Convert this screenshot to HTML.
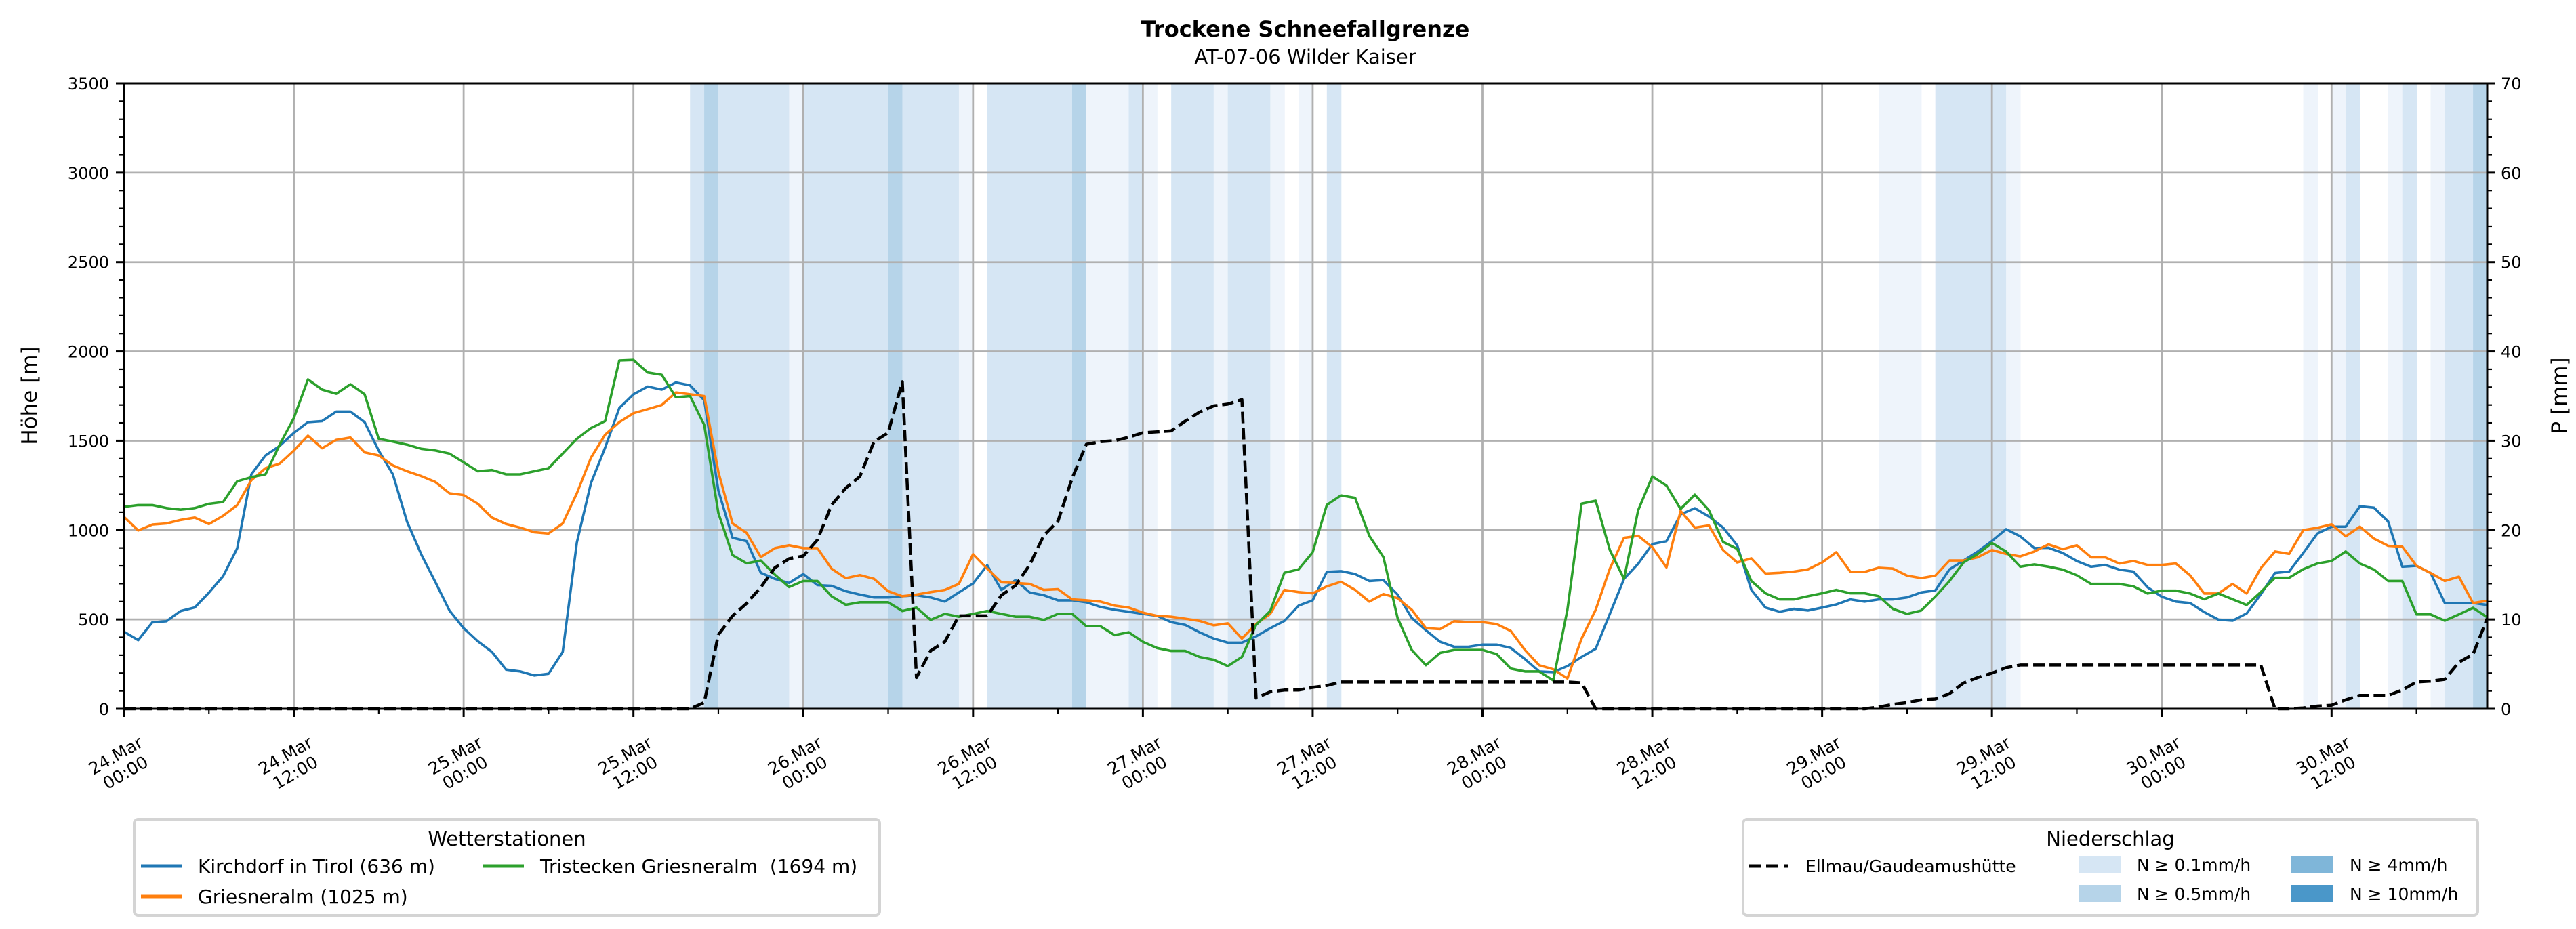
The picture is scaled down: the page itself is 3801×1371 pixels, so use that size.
<!DOCTYPE html>
<html><head><meta charset="utf-8"><style>
html,body{margin:0;padding:0;background:#fff}
svg{display:block;font-family:"DejaVu Sans","Liberation Sans",sans-serif}
</style></head><body>
<svg id="chart" xmlns="http://www.w3.org/2000/svg" width="3801" height="1371" viewBox="0 0 3801 1371">
<rect width="3801" height="1371" fill="#fff"/>
<text x="1926" y="54" text-anchor="middle" font-size="32" font-weight="bold">Trockene Schneefallgrenze</text>
<text x="1926" y="94" text-anchor="middle" font-size="29">AT-07-06 Wilder Kaiser</text>
<g id="bands"></g>
<g id="grid"></g>
<g id="series"></g>
<g id="axes"></g>
<text transform="translate(54,584) rotate(-90)" text-anchor="middle" font-size="31">Höhe [m]</text>
<text transform="translate(3787,584) rotate(-90)" text-anchor="middle" font-size="31">P [mm]</text>
<g>
<rect x="198" y="1209" width="1100" height="142" rx="6" fill="#fff" stroke="#d4d4d4" stroke-width="4"/>
<text x="748" y="1248" text-anchor="middle" font-size="29">Wetterstationen</text>
<line x1="208" y1="1278" x2="268" y2="1278" stroke="#1f77b4" stroke-width="5"/>
<text x="292" y="1288" font-size="28">Kirchdorf in Tirol (636 m)</text>
<line x1="208" y1="1323" x2="268" y2="1323" stroke="#ff7f0e" stroke-width="5"/>
<text x="292" y="1333" font-size="28">Griesneralm (1025 m)</text>
<line x1="713" y1="1278" x2="773" y2="1278" stroke="#2ca02c" stroke-width="5"/>
<text x="797" y="1288" font-size="28" xml:space="preserve">Tristecken Griesneralm  (1694 m)</text>
</g>
<g>
<rect x="2572" y="1209" width="1084" height="142" rx="6" fill="#fff" stroke="#d4d4d4" stroke-width="4"/>
<text x="3114" y="1248" text-anchor="middle" font-size="29">Niederschlag</text>
<line x1="2580" y1="1278" x2="2638" y2="1278" stroke="#000" stroke-width="5" stroke-dasharray="18,8"/>
<text x="2664" y="1287" font-size="25">Ellmau/Gaudeamushütte</text>
<rect x="3067" y="1263" width="62" height="25" fill="#d6e6f4"/>
<text x="3153" y="1285" font-size="25">N ≥ 0.1mm/h</text>
<rect x="3067" y="1306" width="62" height="25" fill="#b6d4e9"/>
<text x="3153" y="1328" font-size="25">N ≥ 0.5mm/h</text>
<rect x="3381" y="1263" width="62" height="25" fill="#7fb6d9"/>
<text x="3467" y="1285" font-size="25">N ≥ 4mm/h</text>
<rect x="3381" y="1306" width="62" height="25" fill="#4a97c9"/>
<text x="3467" y="1328" font-size="25">N ≥ 10mm/h</text>
</g>
</svg>
<script>
const kirchdorf=[431,384,484,490,547,567,650,742,898,1312,1418,1471,1544,1604,1610,1663,1663,1604,1445,1312,1047,865,709,550,451,378,318,219,209,186,196,318,931,1263,1461,1683,1760,1803,1786,1826,1810,
1727,1221,957,938,761,727,704,754,692,688,658,639,623,
623,630,635,623,600,651,701,803,665,720,651,635,607,607,596,570,554,543,531,520,485,469,428,393,370,370,405,451,492,577,607,766,770,
754,715,720,639,508,439,375,347,347,359,359,340,278,209,205,239,290,336,531,727,812,922,938,1088,1122,1076,1014,915,665,566,543,559,550,566,584,612,600,612,612,623,651,662,780,830,
880,939,1005,965,899,901,872,827,795,805,779,768,680,627,600,592,541,499,493,533,640,760,768,872,981,1019,1019,1133,1125,1048,795,800,760,592,592,592,581];
const griesneralm=[1074,998,1031,1037,1057,1070,1034,1080,1140,1279,1346,1372,1445,1528,1458,1505,1518,1435,1418,1362,1329,1302,1269,1206,1196,1147,1070,1034,1014,988,981,1037,1206,1405,1534,1604,1654,1677,1700,1770,1760,
1750,1325,1037,984,849,899,915,899,899,784,731,748,727,
658,630,639,653,665,699,865,784,708,704,699,665,669,612,607,600,577,566,538,520,515,504,492,467,478,393,474,531,665,653,646,685,711,
665,600,642,619,554,451,446,490,485,485,474,435,329,244,221,170,393,554,784,957,968,904,791,1107,1014,1026,888,819,842,757,761,768,780,819,876,766,766,789,784,745,731,745,830,830,
848,888,867,853,880,920,893,915,848,848,813,827,805,805,813,747,645,645,699,645,787,880,867,1000,1013,1032,965,1019,952,912,907,800,760,715,739,592,605];
const tristecken=[1130,1140,1140,1123,1114,1123,1147,1157,1273,1296,1312,1478,1627,1843,1786,1763,1816,1760,1511,1495,1478,1455,1445,1428,1379,1329,1336,1312,1312,1329,1346,1428,1511,1571,1610,1949,1952,1882,1869,1743,1750,
1589,1095,860,814,830,750,681,715,715,630,582,596,596,
596,547,566,497,531,515,531,547,531,515,515,497,531,531,462,462,412,428,375,340,324,324,290,274,239,290,469,547,761,780,876,1141,1194,
1180,968,849,508,329,244,313,329,329,329,306,225,209,209,159,554,1148,1164,888,727,1111,1300,1249,1118,1198,1111,934,895,715,646,612,612,630,646,665,646,646,630,559,531,550,628,715,819,
867,928,880,795,808,795,779,747,699,699,699,685,645,661,661,645,613,645,613,581,653,733,733,781,813,827,880,813,779,715,715,528,528,493,528,565,512];
const ellmauP=[0,0,0,0,0,0,0,0,0,0,0,0,0,0,0,0,0,0,0,0,0,0,0,0,0,0,0,0,0,0,0,0,0,0,0,0,0,0,0,0,0,
0.7,8.3,10.4,11.8,13.6,15.8,16.8,17.1,18.9,22.8,24.7,26.0,29.9,30.9,36.6,3.5,6.5,7.5,10.4,10.4,10.4,12.7,13.8,16.1,19.4,21.0,25.8,29.6,29.9,30.0,30.4,30.9,31.0,31.1,32.2,33.2,33.9,34.1,34.6,1.2,1.9,2.1,2.1,2.4,2.6,3.0,
3.0,3.0,3.0,3.0,3.0,3.0,3.0,3.0,3.0,3.0,3.0,3.0,3.0,3.0,3.0,3.0,2.9,
0,0,0,0,0,0,0,0,0,0,0,0,0,0,0,0,0,0,0,0,
0.2,0.5,0.7,1.0,1.1,1.7,2.9,3.5,4.0,4.6,
4.9,4.9,4.9,4.9,4.9,4.9,4.9,4.9,4.9,4.9,4.9,4.9,4.9,4.9,4.9,4.9,4.9,4.9,
0,0,0.1,0.3,0.4,1.0,1.5,1.5,1.5,2.1,3.0,3.1,3.3,5.2,6.1,10.1];
const precipLevel=[0,0,0,0,0,0,0,0,0,0,0,0,0,0,0,0,0,0,0,0,0,0,0,0,0,0,0,0,0,0,0,0,0,0,0,0,0,0,0,0,
2,3,2,2,2,2,2,1,2,2,2,2,2,2,3,2,2,2,2,1,0,2,2,2,2,2,2,3,1,1,1,2,1,0,2,2,2,1,2,2,2,1,0,1,0,2,
0,0,0,0,0,0,0,0,0,0,0,0,0,0,0,0,0,0,0,0,0,0,0,0,0,0,0,0,0,0,0,0,0,0,0,0,0,0,
1,1,1,0,2,2,2,2,2,1,
0,0,0,0,0,0,0,0,0,0,0,0,0,0,0,0,0,0,0,0,
1,0,1,2,0,0,1,2,0,1,2,2,3];
const xTickDays=["24.Mar","24.Mar","25.Mar","25.Mar","26.Mar","26.Mar","27.Mar","27.Mar","28.Mar","28.Mar","29.Mar","29.Mar","30.Mar","30.Mar"];
const xTickTimes=["00:00","12:00","00:00","12:00","00:00","12:00","00:00","12:00","00:00","12:00","00:00","12:00","00:00","12:00"];
const yTicks=[0,500,1000,1500,2000,2500,3000,3500];
const y2Ticks=[0,10,20,30,40,50,60,70];
const levelColors=["none","#eef4fb","#d6e6f4","#b6d4e9","#4a97c9"];

const NS="http://www.w3.org/2000/svg";
const L=183,R=3670,T=123,B=1046,HMAX=167,YMAX=3500,PMAX=70;
const xS=h=>L+h*(R-L)/HMAX;
const yS=v=>B-v/YMAX*(B-T);
const pS=v=>B-v/PMAX*(B-T);
function mk(tag,attrs,parent){const e=document.createElementNS(NS,tag);for(const k in attrs)e.setAttribute(k,attrs[k]);parent.appendChild(e);return e;}

const bands=document.getElementById('bands');
precipLevel.forEach((lv,h)=>{
  if(!lv)return;
  const r=mk('rect',{x:xS(h),y:T,width:xS(h+1)-xS(h)+0.6,height:B-T,fill:levelColors[lv]},bands);
  
  
});

const grid=document.getElementById('grid');
yTicks.forEach(v=>{
  const g=mk('line',{x1:L,x2:R,y1:yS(v),y2:yS(v),stroke:'#b0b0b0','stroke-width':2.8},grid);
  
  
});
xTickDays.forEach((d,i)=>{
  const x=xS(i*12);
  const g=mk('line',{x1:x,x2:x,y1:T,y2:B,stroke:'#b0b0b0','stroke-width':2.8},grid);
  
  
});

const series=document.getElementById('series');
function line(arr,scale,color,name,dash){
  const pts=arr.map((v,h)=>xS(h).toFixed(1)+','+scale(v).toFixed(1)).join(' ');
  const p=mk('polyline',{points:pts,fill:'none',stroke:color,'stroke-width':dash?4.5:3.6,'stroke-linejoin':'round'},series);
  if(dash)p.setAttribute('stroke-dasharray','17,7');
  
  
}
line(kirchdorf,yS,'#1f77b4','kirchdorf-line');
line(griesneralm,yS,'#ff7f0e','griesneralm-line');
line(tristecken,yS,'#2ca02c','tristecken-line');
line(ellmauP,pS,'#000','ellmau-precip-line',true);

const axes=document.getElementById('axes');
const frame=mk('rect',{x:L,y:T,width:R-L,height:B-T,fill:'none',stroke:'#000','stroke-width':3},axes);


yTicks.forEach(v=>{
  const y=yS(v);
  mk('line',{x1:L-12,x2:L,y1:y,y2:y,stroke:'#000','stroke-width':3},axes);
  const t=mk('text',{x:L-22,y:y+9,'text-anchor':'end','font-size':24},axes);
  t.textContent=v;
  
  
});
for(let v=0;v<=YMAX;v+=100){if(v%500)mk('line',{x1:L-7,x2:L,y1:yS(v),y2:yS(v),stroke:'#000','stroke-width':2.2},axes);}
y2Ticks.forEach(v=>{
  const y=pS(v);
  mk('line',{x1:R,x2:R+12,y1:y,y2:y,stroke:'#000','stroke-width':3},axes);
  const t=mk('text',{x:R+20,y:y+9,'font-size':24},axes);
  t.textContent=v;
  
  
});
for(let v=0;v<=PMAX;v+=2){if(v%10)mk('line',{x1:R,x2:R+7,y1:pS(v),y2:pS(v),stroke:'#000','stroke-width':2.2},axes);}
xTickDays.forEach((d,i)=>{
  const x=xS(i*12);
  mk('line',{x1:x,x2:x,y1:B,y2:B+12,stroke:'#000','stroke-width':3},axes);
  if(i*12+6<=HMAX)mk('line',{x1:xS(i*12+6),x2:xS(i*12+6),y1:B,y2:B+7,stroke:'#000','stroke-width':2.2},axes);
  const cx=x-6,cy=1126;
  const t=mk('text',{transform:`translate(${cx},${cy}) rotate(-30)`,'text-anchor':'middle','font-size':25},axes);
  
  
  const a=mk('tspan',{x:0,y:-4},t);a.textContent=d;
  const b=mk('tspan',{x:0,y:25},t);b.textContent=xTickTimes[i];
});
</script>
</body></html>
